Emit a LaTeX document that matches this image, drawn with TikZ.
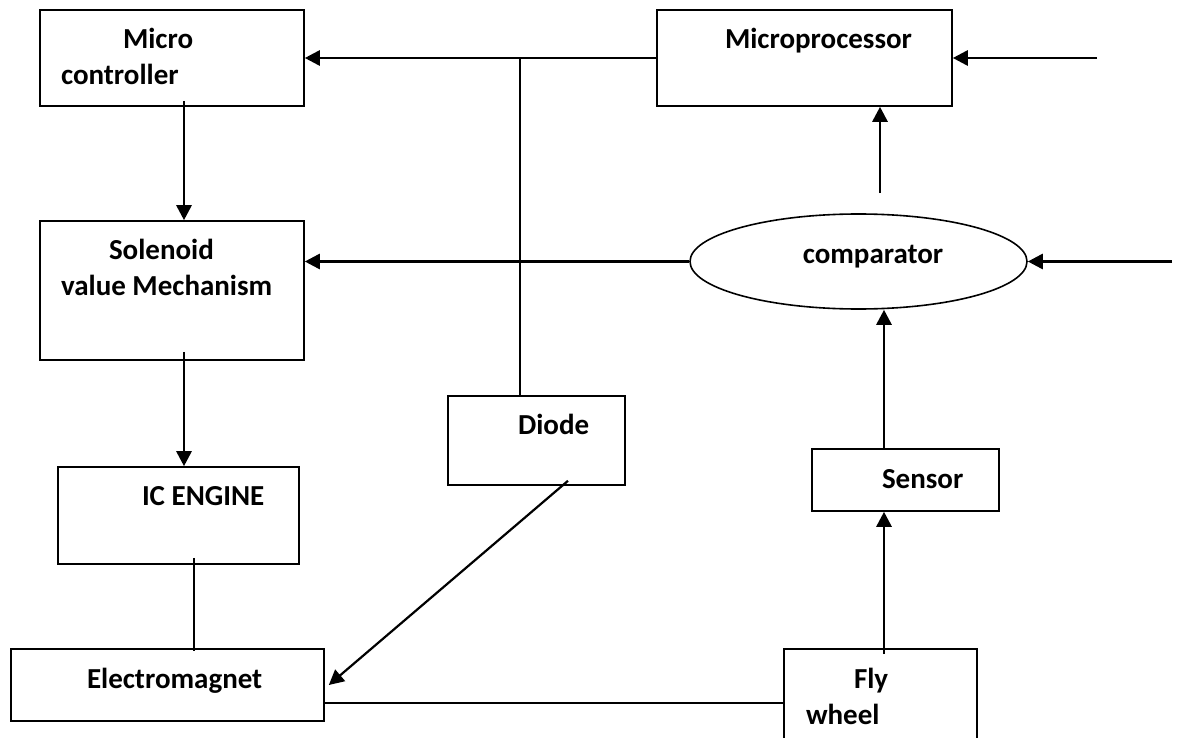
\documentclass[tikz,border=0pt]{standalone}
\usepackage{fontspec}
\setmainfont{Carlito}
\usetikzlibrary{shapes.geometric,arrows.meta}

\begin{document}
\begin{tikzpicture}[x=1pt,y=1pt,->,>={Triangle[length=15pt,width=15pt]},line width=2.8pt,node distance=232.5pt,
    blk/.style={rectangle,draw,line width=1.6pt,inner sep=0pt,align=flush left,font=\bfseries\fontsize{29pt}{36pt}\selectfont},
    ell/.style={ellipse,draw,line width=1.6pt,inner sep=0pt,font=\bfseries\fontsize{29pt}{36pt}\selectfont},
    link/.style={-,line width=1.5pt}]
    \clip (0,0) rectangle (1177,-738);

    % left column
    \node [blk, minimum width=264pt, minimum height=96pt, text width=264pt, text height=0pt, text depth=18pt] (mc) at (172,-58) {\hspace*{83pt}Micro\\\hspace*{21pt}controller};
    \node [blk, minimum width=264pt, minimum height=139pt, text width=264pt, text height=0pt, text depth=63pt] (sol) [below of=mc] {\hspace*{69pt}Solenoid\\\hspace*{21pt}value Mechanism};
    \node [blk, minimum width=241pt, minimum height=97pt, text width=241pt, text height=0pt, text depth=21pt] (ic) [below of=sol, xshift=6.5pt, yshift=7.5pt] {\hspace*{84pt}IC ENGINE};
    \node [blk, minimum width=313pt, minimum height=72pt, text width=313pt, text height=6pt, text depth=0pt] (em) [below of=ic, xshift=-11pt, yshift=63pt] {\hspace*{76pt}Electromagnet};

    % right column
    \node [blk, minimum width=295pt, minimum height=96pt, text width=295pt, text height=0pt, text depth=18pt] (mp) [right of=mc, xshift=400pt] {\hspace*{68pt}Microprocessor};
    \node [ell, minimum width=337pt, minimum height=95pt, text height=3pt, text depth=0pt] (comp) at (858.5,-261.5) {\hspace*{29pt}comparator};
    \node [blk, minimum width=187pt, minimum height=62pt, text width=187pt, text height=16pt, text depth=0pt] (sen) [below of=comp, xshift=47pt, yshift=14pt] {\hspace*{70pt}Sensor};
    \node [blk, minimum width=193pt, minimum height=122pt, text width=193pt, text height=0pt, text depth=44pt] (fly) at (880.5,-710) {\hspace*{70pt}Fly\\\hspace*{22pt}wheel};

    \node [blk, minimum width=177pt, minimum height=89pt, text width=177pt, text height=0pt, text depth=13pt] (dio) at (536.5,-440.5) {\hspace*{70pt}Diode};

    \coordinate (inmp) at (1097,-58);
    \coordinate (incomp) at (1172,-261.5);
    \coordinate (jn) at (520,-58);

    \path
        ([xshift=12pt,yshift=6pt]mc.south) edge ([xshift=12pt]sol.north)
        ([xshift=12pt,yshift=9pt]sol.south) edge ([xshift=5.5pt]ic.north)
        (mp.west) edge (mc.east)
        (comp.west) edge ([yshift=29pt]sol.east)
        (inmp) edge (mp.east)
        (incomp) edge (comp.east)
        ([xshift=21.5pt,yshift=20pt]comp.north) edge ([xshift=75.5pt]mp.south)
        ([xshift=-21.5pt]sen.north) edge ([xshift=25.5pt]comp.south)
        ([xshift=3.5pt,yshift=-6pt]fly.north) edge ([xshift=-21.5pt]sen.south)
        ([xshift=31.5pt,yshift=5pt]dio.south) edge[line width=2.2pt] ([xshift=4pt]em.east)

        ([xshift=-16.5pt]dio.north) edge[-, line width=2.5pt] (jn)
        ([xshift=15.5pt,yshift=7pt]ic.south) edge[link, line width=1.3pt] ([xshift=26.5pt,yshift=-3pt]em.north)
        ([yshift=-18pt]em.east) edge[link] ([yshift=7pt]fly.west)
        ;
\end{tikzpicture}
\end{document}
